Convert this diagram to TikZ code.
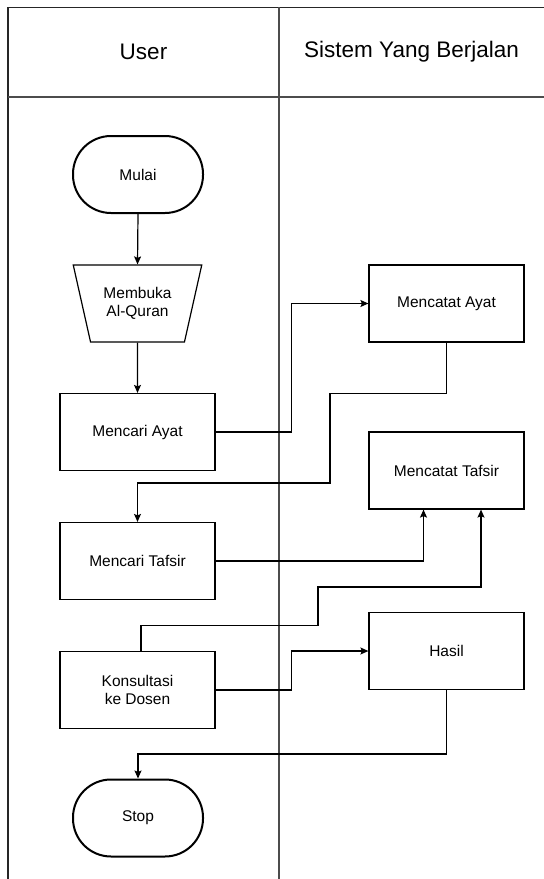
\documentclass[tikz,border=0pt]{standalone}
\usepackage{fontspec}
\setmainfont{Liberation Sans}
\usetikzlibrary{shapes.geometric,arrows.meta,calc}
\begin{document}
\begin{tikzpicture}[x=1pt,y=1pt,
  lane/.style={line width=1.4pt,draw=black!70},
  proc/.style={draw=black,line width=1.2pt,minimum width=155pt,minimum height=77pt,inner sep=0pt,align=center,font=\fontsize{15.5}{18}\selectfont},
  term/.style={draw=black,line width=2pt,rounded corners=38pt,minimum width=130pt,minimum height=77pt,inner sep=0pt,font=\fontsize{15.5}{18}\selectfont},
  manual/.style={draw=black,line width=1.2pt,trapezium,trapezium left angle=111.3,trapezium right angle=111.3,trapezium stretches=true,minimum width=129pt,minimum height=77pt,inner sep=0pt,align=center,font=\fontsize{15.5}{18}\selectfont},
  conn/.style={line width=1.2pt,draw=black},
  arr/.style={conn,-{Stealth[length=8pt,width=7pt,inset=1.5pt]}},
  head/.style={font=\fontsize{22.5}{26}\selectfont}
]
\useasboundingbox (0,0) rectangle (544,-879);
% swimlane frame
\coordinate (tl) at (8,-7.3);
\coordinate (tr) at (544,-7.3);
\coordinate (hl) at (8,-97);
\coordinate (hr) at (544,-97);
\coordinate (bl) at (8,-879);
\coordinate (dt) at (279,-7.3);
\coordinate (db) at (279,-879);
\draw[line width=1.4pt,draw=black!85] (tr) -- (tl) -- (bl);
\draw[lane] (hl) -- (hr);
\draw[lane] (dt) -- (db);
\node[head] (huser) at (143.5,-52) {User};
\node[head] (hsys) at (411.5,-52) {Sistem Yang Berjalan};
% user lane
\node[term] (mulai) at (138,-174.5) {Mulai};
\node[manual] (buka) at (137.5,-303.5) {Membuka\\Al-Quran};
\node[proc] (ayat) at (137.5,-432) {Mencari Ayat};
\node[proc] (tafsir) at (137.5,-561) {Mencari Tafsir};
\node[proc] (kons) at (137.5,-690) {Konsultasi\\ke Dosen};
\node[term] (stop) at (138,-818) {Stop};
% system lane
\node[proc] (cayat) at (446.5,-303.5) {Mencatat Ayat};
\node[proc] (ctafsir) at (446.5,-470.5) {Mencatat Tafsir};
\node[proc] (hasil) at (446.5,-651) {Hasil};
% bend points
\coordinate (b1) at (291.5,-432);
\coordinate (b2) at (330,-393.5);
\coordinate (b3) at (330,-483);
\coordinate (b4) at (318,-625.3);
\coordinate (b5) at (318,-587);
\coordinate (b6) at (291.5,-690);
\coordinate (b7) at (446.5,-754);
% connectors
\draw[arr] (mulai.south) -- (buka.north);
\draw[arr] (buka.south) -- (ayat.north);
\draw[arr] (ayat.east) -- (b1) |- (cayat.west);
\draw[arr] (cayat.south) |- (b2) -- (b3) -| (tafsir.north);
\draw[arr] (tafsir.east) -| ([xshift=-23pt]ctafsir.south);
\draw[arr] ([xshift=3.5pt]kons.north) |- (b4) -- (b5) -| ([xshift=34.5pt]ctafsir.south);
\draw[arr] (kons.east) -- (b6) |- (hasil.west);
\draw[arr] (hasil.south) -- (b7) -| (stop.north);
\end{tikzpicture}
\end{document}
